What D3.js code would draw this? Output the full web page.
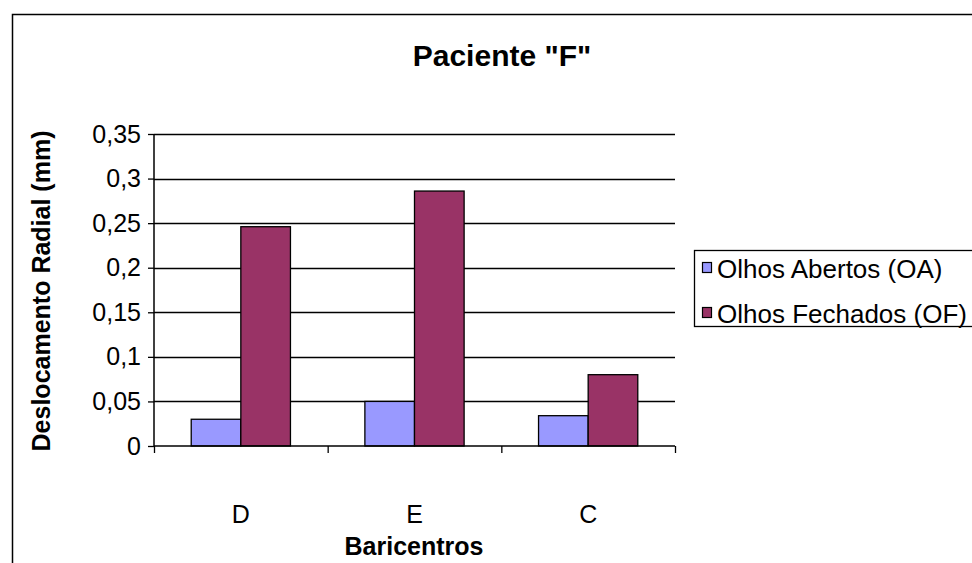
<!DOCTYPE html>
<html><head><meta charset="utf-8">
<script src="https://cdn.jsdelivr.net/npm/d3@7"></script>
<style>body{margin:0;background:#fff}svg{display:block}text{font-family:"Liberation Sans",Arial,sans-serif;fill:#000}</style>
</head><body>
<script>
const categories = ["D", "E", "C"];
const seriesNames = ["Olhos Abertos (OA)", "Olhos Fechados (OF)"];
const seriesOA = [0.03, 0.05, 0.034];
const seriesOF = [0.246, 0.286, 0.08];
const yTicks = [0, 0.05, 0.1, 0.15, 0.2, 0.25, 0.3, 0.35];
const colors = ["#9999FF", "#993366"];

(function () {
const W = 972, H = 563;
const svg = d3.select("body").append("svg").attr("width", W).attr("height", H);

svg.append("rect").attr("x", 12.5).attr("y", 14.5).attr("width", 1000).attr("height", 600)
  .attr("fill", "#fff").attr("stroke", "#000").attr("stroke-width", 1.5);

const pL = 154, pR = 675, pT = 134, pB = 446;
const x = d3.scaleBand().domain(categories).range([pL, pR]).paddingInner(0).paddingOuter(0);
const y = d3.scaleLinear().domain([0, 0.35]).range([pB, pT]);
const fmt = d => String(d).replace(".", ",");

svg.append("g").selectAll("line").data(yTicks.filter(d => d > 0)).join("line")
  .attr("x1", pL).attr("x2", pR).attr("y1", d => Math.round(y(d)) + 0.5).attr("y2", d => Math.round(y(d)) + 0.5)
  .attr("stroke", "#000").attr("stroke-width", 1.3);

const bw = x.bandwidth() / 3.5;
const g = svg.append("g");
categories.forEach((c, i) => {
  const cx = x(c) + x.bandwidth() / 2;
  [seriesOA[i], seriesOF[i]].forEach((v, s) => {
    g.append("rect").attr("x", cx - bw + s * bw).attr("y", y(v)).attr("width", bw).attr("height", y(0) - y(v))
      .attr("fill", colors[s]).attr("stroke", "#000").attr("stroke-width", 1.3);
  });
});

const ya = d3.axisLeft(y).tickValues(yTicks).tickSize(6).tickPadding(7).tickFormat(fmt);
const yg = svg.append("g").attr("transform", `translate(${pL},0)`).call(ya);
yg.select(".domain").attr("stroke-width", 1.5).attr("d", `M0,${pT}V${pB}`);
yg.selectAll(".tick line").attr("stroke-width", 1.3);
yg.selectAll("text").attr("font-size", 25).attr("font-family", "Liberation Sans, Arial, sans-serif");

const xa = d3.axisBottom(d3.scaleLinear().domain([0, 3]).range([pL, pR])).tickValues([0, 1, 2, 3]).tickSize(7).tickFormat("");
const xg = svg.append("g").attr("transform", `translate(0,${pB})`).call(xa);
xg.select(".domain").attr("stroke-width", 1.5).attr("d", `M${pL},0H${pR}`);
xg.selectAll(".tick line").attr("stroke-width", 1.3);
svg.append("g").selectAll("text").data(categories).join("text")
  .attr("x", d => x(d) + x.bandwidth() / 2).attr("y", 523).attr("text-anchor", "middle")
  .attr("font-size", 25).text(d => d);

svg.append("text").attr("x", 502).attr("y", 66).attr("text-anchor", "middle").attr("font-size", 30).attr("font-weight", "bold").text('Paciente "F"');
svg.append("text").attr("x", 414).attr("y", 555).attr("text-anchor", "middle").attr("font-size", 25).attr("font-weight", "bold").text("Baricentros");
svg.append("text").attr("transform", "translate(50,291) rotate(-90)").attr("text-anchor", "middle").attr("font-size", 25).attr("font-weight", "bold").text("Deslocamento Radial (mm)");

const lg = svg.append("g");
lg.append("rect").attr("x", 694.5).attr("y", 250.5).attr("width", 300).attr("height", 76).attr("fill", "#fff").attr("stroke", "#000").attr("stroke-width", 1.3);
seriesNames.forEach((n, i) => {
  lg.append("rect").attr("x", 702.5).attr("y", 262.5 + i * 45).attr("width", 9).attr("height", 10).attr("fill", colors[i]).attr("stroke", "#000").attr("stroke-width", 1.2);
  lg.append("text").attr("x", 717).attr("y", 278 + i * 45).attr("font-size", 26).text(n);
});
})();
</script>
</body></html>
